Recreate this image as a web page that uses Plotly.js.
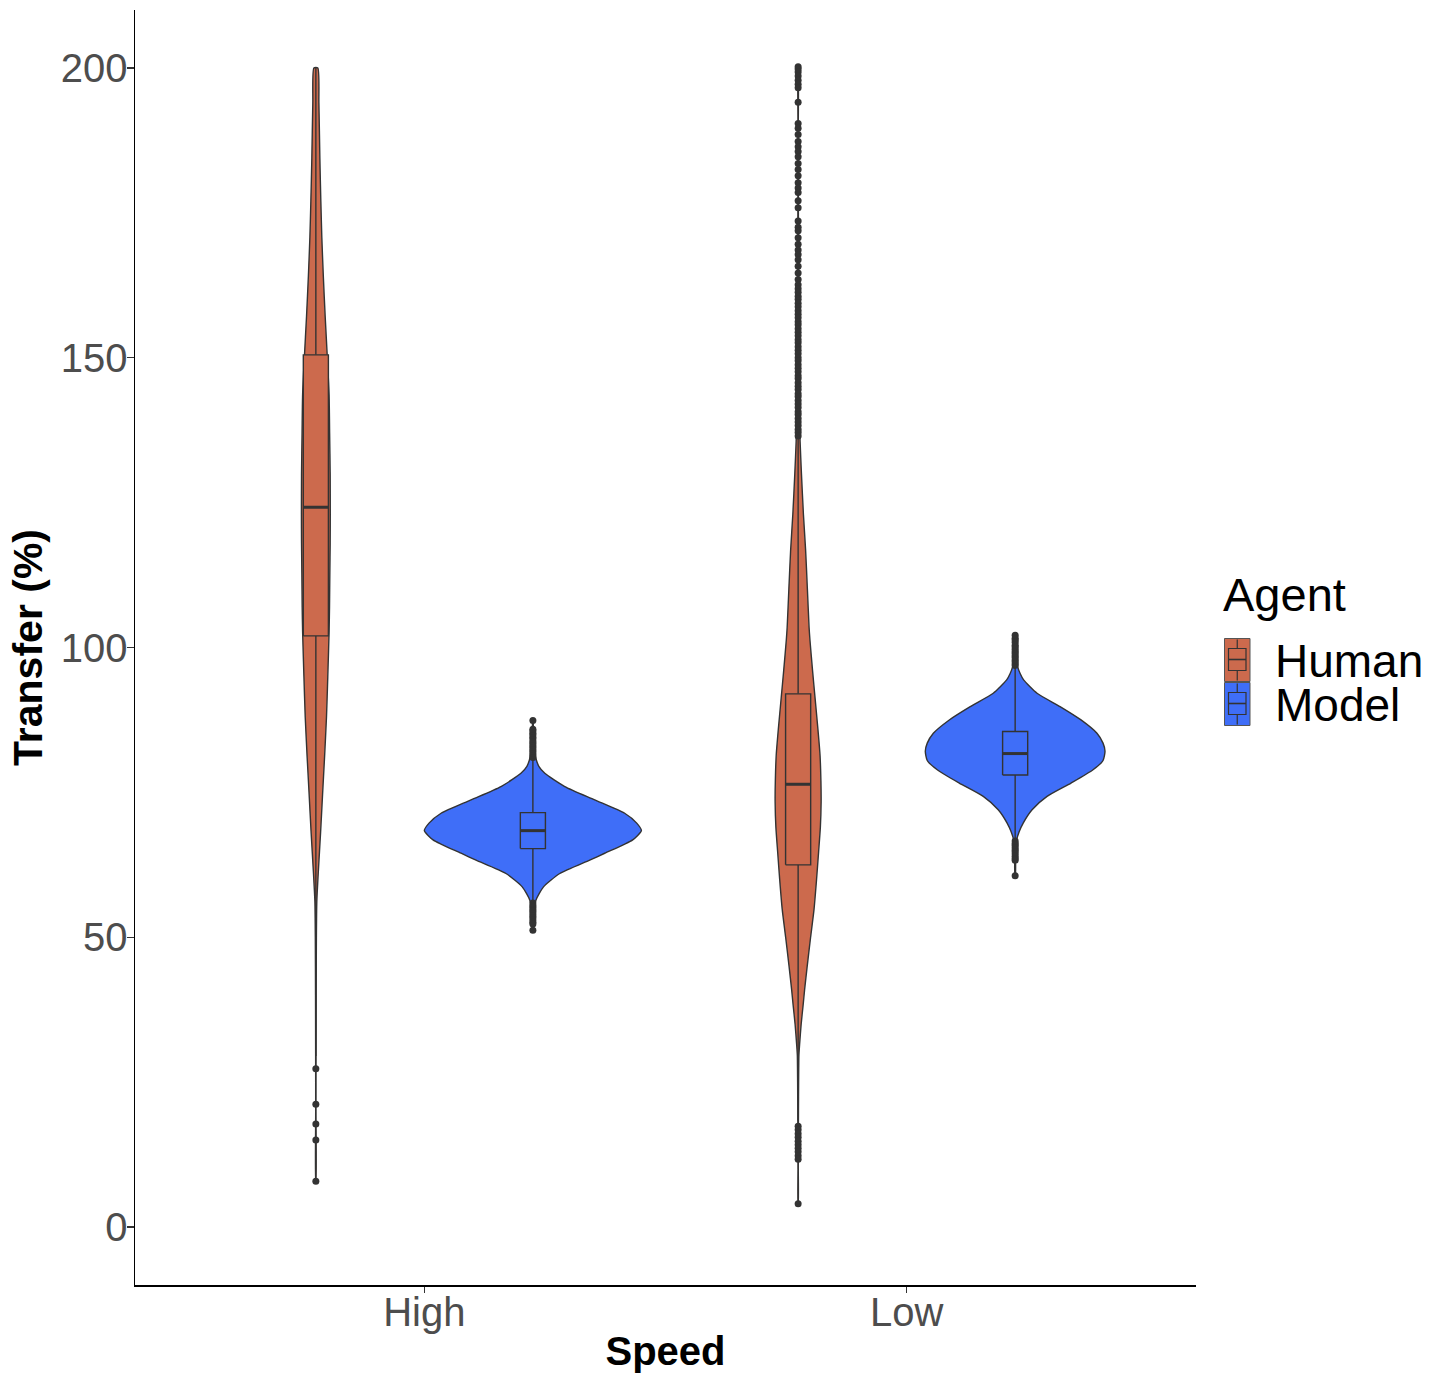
<!DOCTYPE html>
<html><head><meta charset="utf-8">
<script src="https://cdn.plot.ly/plotly-3.0.1.min.js"></script>
<style>body{margin:0;background:#fff}</style>
</head><body><div id="chart" style="width:1446px;height:1373px"></div>
<script>
// ---------------- DATA ----------------
const speeds = ['High', 'Low'];
const agents = ['Human', 'Model'];

// Violin density profiles: value (%) and relative density (% of widest violin)
const humanHighY    = [200, 194, 184.4, 177, 170.8, 164, 157.1, 150, 143.6, 137, 130, 123, 118, 112.9, 107, 102.7, 95, 88, 81, 74.7, 68.2, 61.4, 56.2, 50, 40, 30, 20, 7.9];
const humanHighDens = [1.8, 2.8, 3.7, 4.6, 5.5, 6.9, 8.6, 10.6, 12.2, 12.7, 13.2, 13.3, 13.2, 12.9, 12.6, 12.2, 11.0, 9.8, 8.0, 6.2, 4.4, 2.3, 0.9, 0.5, 0.3, 0.2, 0.14, 0.09];

const modelHighY    = [87.4, 85, 82.5, 80.6, 79.5, 78.3, 76.0, 73.7, 71.4, 69.7, 68.4, 66.8, 66.0, 64.5, 63.3, 61.0, 58.7, 56.4, 54, 51.2];
const modelHighDens = [0.18, 0.46, 1.1, 3.2, 5.5, 11.0, 29.4, 57.0, 84.6, 95.7, 100, 92.0, 83.7, 66.2, 52.4, 24.8, 9.8, 2.8, 0.55, 0.18];

const humanLowY    = [200, 190, 180, 170, 160, 150, 142, 135.5, 130.1, 123, 116.8, 110, 103.5, 101.3, 96, 91.3, 86, 81.4, 77, 73.4, 69, 64.8, 60, 54.9, 50, 44.9, 41, 38.3, 35, 31.6, 29.7, 25, 20, 15, 10, 4];
const humanLowDens = [0.09, 0.14, 0.18, 0.28, 0.37, 0.55, 0.92, 1.84, 3.04, 4.88, 6.9, 8.56, 10.1, 10.9, 13.3, 15.6, 18.2, 20.2, 21.0, 21.2, 20.5, 18.9, 17.0, 14.7, 11.5, 8.3, 6.0, 4.6, 2.8, 1.4, 0.74, 0.46, 0.32, 0.23, 0.14, 0.09];

const modelLowY    = [102.1, 100, 98.5, 96.7, 95.5, 94.4, 92.1, 89.8, 87.5, 85.2, 83.5, 82.1, 80.5, 78.9, 76.6, 74.3, 72.0, 69.7, 68.2, 66.8, 64, 60.6];
const modelLowDens = [0.18, 0.46, 0.92, 2.3, 4.6, 7.8, 20.2, 41.4, 60.7, 75.4, 81.0, 82.8, 81.0, 71.8, 51.5, 29.4, 15.6, 7.4, 3.7, 1.4, 0.46, 0.18];

// Box statistics per speed (High, Low)
const humanQ1 = [102.0, 62.5],  humanMedian = [124.2, 76.4], humanQ3 = [150.5, 92.0];
const humanLowerWhisker = [29.5, 18.4], humanUpperWhisker = [200.0, 136.1];
const modelQ1 = [65.3, 78.0],   modelMedian = [68.4, 81.7],  modelQ3 = [71.5, 85.5];
const modelLowerWhisker = [56.1, 66.9], modelUpperWhisker = [80.7, 96.6];

// Outliers
const humanHighOut = [27.3, 21.2, 17.8, 15.0, 7.9];
const modelHighOut = [81.0, 81.4, 81.7, 82.1, 82.4, 82.8, 83.1, 83.5, 83.8, 84.2, 84.5, 84.9, 85.2, 85.6, 85.9, 87.4,
                      55.9, 55.5, 55.2, 54.8, 54.5, 54.1, 53.7, 53.4, 53.0, 52.6, 52.3, 51.2];
const humanLowOut = [200.2, 199.8, 199.3, 198.6, 197.9, 197.2, 196.6, 194.1, 190.4, 189.6, 188.5, 187.3, 186.4, 185.6, 184.7, 183.5,
                     182.5, 181.4, 180.2, 179.3, 178.5, 177.1, 175.9, 173.6, 172.5, 171.9, 170.7, 169.6, 168.6, 167.8, 166.9,
                     165.8, 164.6, 163.5, 162.6, 161.9, 161.3, 160.6, 160.1, 159.4, 158.8, 158.1, 157.5, 156.9, 156.2, 155.7,
                     155.0, 154.4, 153.8, 153.1, 152.6, 151.9, 151.3, 150.7, 150.0, 149.5, 148.8, 148.2, 147.6, 146.9, 146.4,
                     145.7, 145.1, 144.5, 143.8, 143.3, 142.6, 142.0, 141.4, 140.7, 140.2, 139.5, 138.9, 138.3, 137.6, 137.1, 136.5,
                     17.4, 16.8, 16.1, 15.5, 14.8, 14.2, 13.6, 13.0, 12.3, 11.7, 4.0];
const modelLowOut = [96.9, 97.2, 97.6, 97.9, 98.3, 98.6, 99.0, 99.3, 99.7, 100.1, 100.4, 100.9, 101.3, 101.6, 102.1,
                     66.6, 66.2, 65.9, 65.5, 65.1, 64.8, 64.4, 64.0, 63.6, 63.3, 60.6];

const yTicks = [0, 50, 100, 150, 200];

// ---------------- STYLE ----------------
const colors = {Human: '#CC6A4D', Model: '#3F6EF8'};
const ink = '#333333';
const FONT = 'Liberation Sans, Arial, sans-serif';
const dodge = 0.225;      // half of dodge width 0.9/2
const maxHalf = 0.225;    // widest violin half width in axis units
const boxHalf = 0.026;

const violins = {
  Human: [[humanHighY, humanHighDens], [humanLowY, humanLowDens]],
  Model: [[modelHighY, modelHighDens], [modelLowY, modelLowDens]]
};
const stats = {
  Human: {q1: humanQ1, med: humanMedian, q3: humanQ3, lo: humanLowerWhisker, hi: humanUpperWhisker, out: [humanHighOut, humanLowOut]},
  Model: {q1: modelQ1, med: modelMedian, q3: modelQ3, lo: modelLowerWhisker, hi: modelUpperWhisker, out: [modelHighOut, modelLowOut]}
};
const centre = (ai, si) => (si + 1) + (ai === 0 ? -dodge : dodge);

const traces = [];
// violins
agents.forEach((ag, ai) => {
  speeds.forEach((sp, si) => {
    const c = centre(ai, si);
    const [ys, ds] = violins[ag][si];
    const xs = [], yy = [];
    ys.forEach((y, i) => { xs.push(c + ds[i] / 100 * maxHalf); yy.push(y); });
    for (let i = ys.length - 1; i >= 0; i--) { xs.push(c - ds[i] / 100 * maxHalf); yy.push(ys[i]); }
    xs.push(xs[0]); yy.push(yy[0]);
    traces.push({type: 'scatter', mode: 'lines', x: xs, y: yy, fill: 'toself', fillcolor: colors[ag],
      line: {color: ink, width: 1.4, shape: 'spline', smoothing: 0.6}, showlegend: false, hoverinfo: 'skip'});
  });
});
// boxplots
agents.forEach((ag, ai) => {
  const s = stats[ag];
  speeds.forEach((sp, si) => {
    const c = centre(ai, si);
    traces.push({type: 'scatter', mode: 'lines', x: [c, c, null, c, c], y: [s.lo[si], s.q1[si], null, s.q3[si], s.hi[si]],
      line: {color: ink, width: 1.4}, showlegend: false, hoverinfo: 'skip'});
    traces.push({type: 'scatter', mode: 'lines', name: ag,
      x: [c - boxHalf, c + boxHalf, c + boxHalf, c - boxHalf, c - boxHalf],
      y: [s.q1[si], s.q1[si], s.q3[si], s.q3[si], s.q1[si]],
      fill: 'toself', fillcolor: colors[ag], line: {color: ink, width: 1.4}, showlegend: false, hoverinfo: 'skip'});
    traces.push({type: 'scatter', mode: 'lines', x: [c - boxHalf, c + boxHalf], y: [s.med[si], s.med[si]],
      line: {color: ink, width: 3}, showlegend: false, hoverinfo: 'skip'});
    traces.push({type: 'scatter', mode: 'markers', x: s.out[si].map(() => c), y: s.out[si],
      marker: {color: ink, size: 7}, showlegend: false, hoverinfo: 'skip'});
  });
});

// ---------------- MANUAL LEGEND ----------------
const L = 135, R = 1196, T = 10, B = 1285;
const px = v => (v - L) / (R - L);
const py = v => (B - v) / (B - T);
const shapes = [], annotations = [];
annotations.push({text: 'Agent', xref: 'paper', yref: 'paper', x: px(1221), y: py(594), xanchor: 'left', yanchor: 'middle',
  showarrow: false, font: {family: FONT, size: 47, color: '#000'}});
agents.forEach((ag, i) => {
  const top = 638.5 + i * 44, bot = top + 43;
  const x0 = 1224.5, x1 = 1250;
  shapes.push({type: 'rect', xref: 'paper', yref: 'paper', x0: px(x0), x1: px(x1), y0: py(bot), y1: py(top),
    fillcolor: colors[ag], line: {color: '#555', width: 1}});
  const bx0 = 1228.5, bx1 = 1246, by0 = top + 10, by1 = top + 32, cx = (x0 + x1) / 2;
  shapes.push({type: 'rect', xref: 'paper', yref: 'paper', x0: px(bx0), x1: px(bx1), y0: py(by1), y1: py(by0),
    line: {color: ink, width: 1.2}});
  shapes.push({type: 'line', xref: 'paper', yref: 'paper', x0: px(bx0), x1: px(bx1), y0: py((by0 + by1) / 2), y1: py((by0 + by1) / 2),
    line: {color: ink, width: 1.6}});
  shapes.push({type: 'line', xref: 'paper', yref: 'paper', x0: px(cx), x1: px(cx), y0: py(top + 1), y1: py(by0), line: {color: ink, width: 1.2}});
  shapes.push({type: 'line', xref: 'paper', yref: 'paper', x0: px(cx), x1: px(cx), y0: py(by1), y1: py(bot - 1), line: {color: ink, width: 1.2}});
  annotations.push({text: ag, xref: 'paper', yref: 'paper', x: px(1273), y: py((top + bot) / 2 + 1), xanchor: 'left', yanchor: 'middle',
    height: 42, valign: 'middle', showarrow: false, font: {family: FONT, size: 46, color: '#000'}});
});

const layout = {
  width: 1446, height: 1373,
  margin: {l: L, r: 1446 - R, t: T, b: 1373 - B},
  paper_bgcolor: '#fff', plot_bgcolor: '#fff',
  showlegend: false,
  font: {family: FONT},
  xaxis: {range: [0.4, 2.6], tickvals: speeds.map((s, i) => i + 1), ticktext: speeds,
    showgrid: false, zeroline: false, showline: true, linecolor: '#000', linewidth: 1.5,
    ticks: 'outside', ticklen: 6, tickwidth: 1.5, tickcolor: ink, ticklabelstandoff: -15,
    tickfont: {family: FONT, size: 40, color: '#4D4D4D'},
    title: {text: '<b>Speed</b>', font: {family: FONT, size: 40, color: '#000'}, standoff: 8}},
  yaxis: {range: [-10, 210], tickvals: yTicks, ticktext: yTicks.map(String),
    showgrid: false, zeroline: false, showline: true, linecolor: '#000', linewidth: 1.5,
    ticks: 'outside', ticklen: 7, tickwidth: 1.5, tickcolor: ink, ticklabelstandoff: -9,
    tickfont: {family: FONT, size: 40, color: '#4D4D4D'},
    title: {text: '<b>Transfer (%)</b>', font: {family: FONT, size: 41, color: '#000'}, standoff: 5}},
  shapes: shapes, annotations: annotations
};

Plotly.newPlot('chart', traces, layout, {staticPlot: true, displayModeBar: false});
</script>
</body></html>
